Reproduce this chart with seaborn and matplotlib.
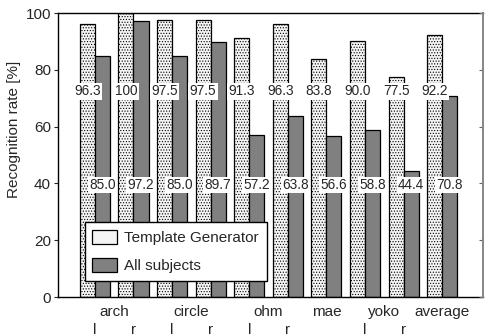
import pandas as pd
import seaborn as sns
import matplotlib.pyplot as plt

# данные
groups = ["arch l", "arch r", "circle l", "circle r", "ohm l", "ohm r",
          "mae", "yoko l", "yoko r", "average"]
template_gen = [96.3, 100, 97.5, 97.5, 91.3, 96.3, 83.8, 90.0, 77.5, 92.2]
all_subjects = [85.0, 97.2, 85.0, 89.7, 57.2, 63.8, 56.6, 58.8, 44.4, 70.8]
series_names = ["Template Generator", "All subjects"]

major_pos = [0.5, 2.5, 4.5, 6, 7.5, 9]
major_labels = ["arch", "circle", "ohm", "mae", "yoko", "average"]
minor_pos = [0, 1, 2, 3, 4, 5, 7, 8]
minor_labels = ["l", "r", "l", "r", "l", "r", "l", "r"]

sns.set_theme(style="white")
plt.rcParams["font.family"] = ["Liberation Sans", "DejaVu Sans"]
plt.rcParams["hatch.color"] = "#cccccc"
plt.rcParams["hatch.linewidth"] = 0.5

df = pd.DataFrame({
    "group": groups * 2,
    "value": template_gen + all_subjects,
    "series": [series_names[0]] * len(groups) + [series_names[1]] * len(groups),
})

fig = plt.figure(figsize=(4.86, 3.36), dpi=100)
ax = fig.add_axes([0.119, 0.116, 0.875, 0.845])
sns.barplot(data=df, x="group", y="value", hue="series", order=groups,
            palette=["#f4f4f4", "#808080"], width=0.78, edgecolor="black",
            linewidth=0.9, saturation=1, ax=ax)

# точечная штриховка у светлых столбцов
for bar in ax.containers[0]:
    bar.set_hatch("......")

# подписи значений в белых рамках
for cont, y_lab in zip(ax.containers, [72.5, 39.5]):
    for bar, val in zip(cont, cont.datavalues):
        ax.text(bar.get_x() + bar.get_width() / 2, y_lab, f"{val:.1f}" if val < 100 else "100",
                ha="center", va="center", fontsize=9.8,
                bbox=dict(facecolor="white", edgecolor="none", pad=1.0))

ax.set_ylim(0, 100)
ax.set_xlim(-0.96, 10.06)
ax.set_yticks([0, 20, 40, 60, 80, 100])
ax.tick_params(axis="y", labelsize=11, direction="out", length=3, width=0.8,
               right=False, left=True, pad=2)
ax.set_xticks(major_pos, major_labels)
ax.set_xticks(minor_pos, minor_labels, minor=True)
ax.tick_params(axis="x", which="major", labelsize=11, length=0, pad=6)
ax.tick_params(axis="x", which="minor", labelsize=11, length=0, pad=19)
ax.set_xlabel("")
ax.set_ylabel("Recognition rate [%]", fontsize=11)
ax.yaxis.set_label_coords(-0.087, 0.59)

# справа засечки внутрь, без подписей
ax_r = ax.twinx()
ax_r.set_ylim(ax.get_ylim())
ax_r.set_yticks([0, 20, 40, 60, 80, 100])
ax_r.tick_params(axis="y", direction="in", length=3, width=0.8, labelright=False,
                 colors="#666666")
ax_r.spines["right"].set_color("#888888")
for side in ["left", "top", "bottom"]:
    ax_r.spines[side].set_visible(False)

for side in ["left", "top", "bottom"]:
    ax.spines[side].set_color("black")
    ax.spines[side].set_linewidth(1.0)
ax.spines["right"].set_color("#888888")

leg = ax.legend(loc="lower left", bbox_to_anchor=(0.045, 0.03), fontsize=11,
                fancybox=False, edgecolor="black", framealpha=1,
                labelspacing=0.85, handlelength=1.6, handleheight=1.0,
                borderpad=0.5, handletextpad=0.5)
leg.get_frame().set_linewidth(1.0)

fig.savefig("out.png", dpi=100)
